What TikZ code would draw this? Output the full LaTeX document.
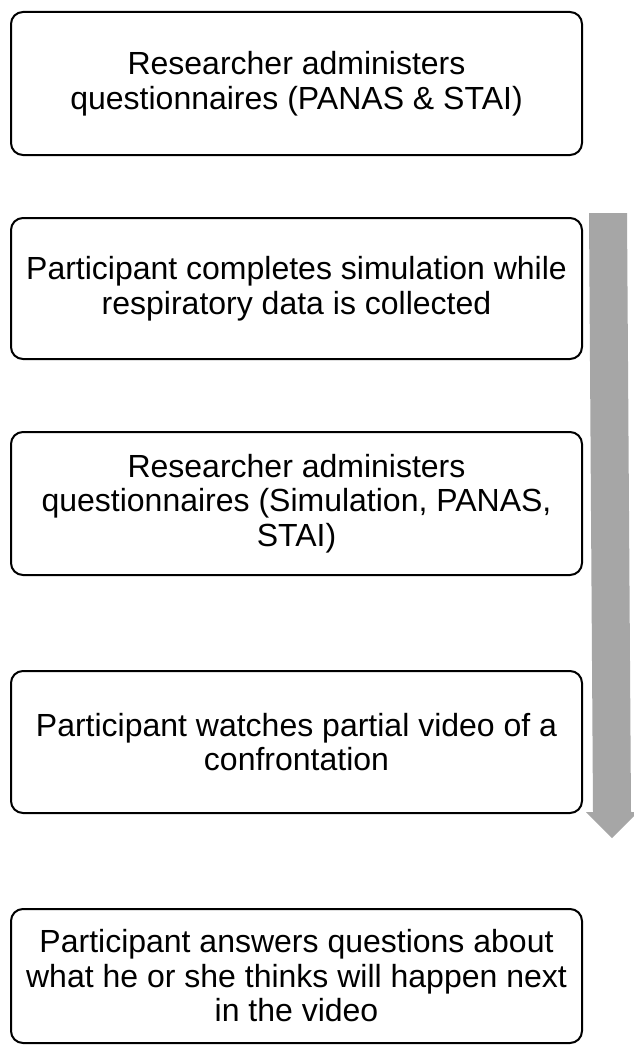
\documentclass[tikz,border=0pt]{standalone}
\usepackage{fontspec}
\setmainfont{Liberation Sans}
\definecolor{arrowgray}{RGB}{166,166,166}
\tikzset{
  stepbox/.style={draw=black, line width=2pt, rounded corners=12pt,
    minimum width=571pt, align=center, inner sep=0pt,
    font=\fontsize{32}{34.5}\selectfont},
  flowarrow/.style={fill=arrowgray, draw=none}
}
\begin{document}
\begin{tikzpicture}[x=1pt,y=-1pt]
\useasboundingbox (0,0) rectangle (634,1046);
\clip (0,0) rectangle (634,1046);
\fill[white] (0,0) rectangle (634,1046);
\node[stepbox, minimum height=143pt] (b1) at (296.5,83.5)
  {Researcher administers\\questionnaires (PANAS \& STAI)};
\node[stepbox, minimum height=141pt] (b2) at (296.5,288.5)
  {Participant completes simulation while\\respiratory data is collected};
\node[stepbox, minimum height=143pt] (b3) at (296.5,503.5)
  {Researcher administers\\questionnaires (Simulation, PANAS,\\STAI)};
\node[stepbox, minimum height=142pt] (b4) at (296.5,742)
  {Participant watches partial video of a\\confrontation};
\node[stepbox, minimum height=134pt] (b5) at (296.5,976)
  {Participant answers questions about\\what he or she thinks will happen next\\in the video};
\path[flowarrow] (589,213) -- (627,213) -- (631,812) -- (638,812)
  -- (612,838) -- (586,812) -- (593,812) -- cycle;
\end{tikzpicture}
\end{document}
